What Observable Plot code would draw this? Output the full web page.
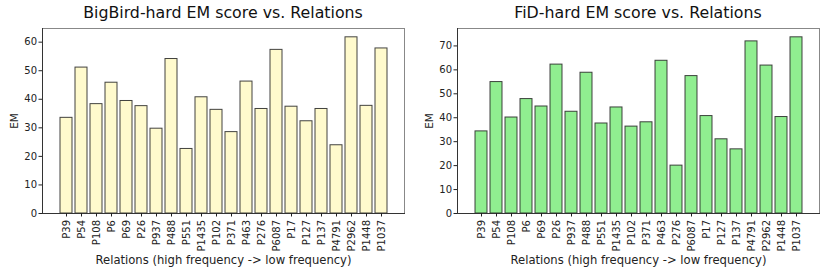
<!DOCTYPE html>
<html>
<head>
<meta charset="utf-8">
<script src="https://cdn.jsdelivr.net/npm/d3@7"></script>
<script src="https://cdn.jsdelivr.net/npm/@observablehq/plot@0.6"></script>
<style>
  html, body { margin: 0; padding: 0; background: #fff; }
  body { width: 830px; height: 278px; overflow: hidden; font-family: "DejaVu Sans", sans-serif; }
  #row { display: flex; flex-direction: row; }
  .panel { width: 415px; position: relative; }
  .title { height: 22px; font-size: 15.8px; color: #111; text-align: center; padding-left: 31px; box-sizing: border-box; line-height: 22px; padding-top: 2px; white-space: nowrap; }
  svg { display: block; }
</style>
</head>
<body>
<div id="row"></div>
<script>
const relations = ["P39","P54","P108","P6","P69","P26","P937","P488","P551","P1435","P102","P371","P463","P276","P6087","P17","P127","P137","P4791","P2962","P1448","P1037"];
const bigbirdEM = [33.5,51.1,38.3,45.8,39.4,37.6,29.7,54.1,22.6,40.7,36.3,28.5,46.2,36.6,57.3,37.4,32.3,36.6,23.9,61.7,37.7,57.8];
const fidEM = [34.3,54.9,40.1,47.8,44.7,62.2,42.5,58.8,37.6,44.3,36.3,38.1,63.8,20.0,57.4,40.7,31.0,26.8,71.9,61.8,40.3,73.6];
const titles = ["BigBird-hard EM score vs. Relations", "FiD-hard EM score vs. Relations"];
const fills = ["#fffacd", "#90ee90"];
const yTicks = [d3.range(0, 61, 10), d3.range(0, 71, 10)];
const xLabel = "Relations (high frequency -> low frequency)";
const yLabel = "EM";

const row = document.getElementById("row");
[bigbirdEM, fidEM].forEach((vals, k) => {
  const data = relations.map((r, i) => ({rel: r, em: vals[i]}));
  const ymax = d3.max(vals) * 1.05;
  const panel = document.createElement("div");
  panel.className = "panel";
  const t = document.createElement("div");
  t.className = "title";
  t.textContent = titles[k];
  panel.appendChild(t);
  const chart = Plot.plot({
    width: 415,
    height: 256,
    marginTop: 6,
    marginLeft: 42,
    marginRight: 11,
    marginBottom: 65,
    style: {fontFamily: "DejaVu Sans, sans-serif", fontSize: "10px", color: "#222", background: "#fff"},
    x: {type: "band", domain: relations, paddingInner: 0.2, paddingOuter: 1.09},
    y: {domain: [0, ymax]},
    marks: [
      Plot.barY(data, {x: "rel", y: "em", fill: fills[k], stroke: "#222", strokeWidth: 1, strokeOpacity: 0.85}),
      Plot.frame({stroke: "#888", strokeWidth: 1}),
      Plot.frame({anchor: "left", stroke: "#333", strokeWidth: 1}),
      Plot.frame({anchor: "bottom", stroke: "#333", strokeWidth: 1}),
      Plot.axisY({ticks: yTicks[k], tickSize: 3.5, tickPadding: 2, label: yLabel, labelAnchor: "center", labelArrow: "none", labelOffset: 32}),
      Plot.axisX({tickSize: 3.5, tickRotate: -90, tickPadding: 3, label: xLabel, labelAnchor: "center", labelArrow: "none", labelOffset: 50})
    ]
  });
  panel.appendChild(chart);
  row.appendChild(panel);
});
document.querySelectorAll("svg [aria-label='x-axis label']").forEach(el => el.setAttribute("font-size", "11.6px"));
document.querySelectorAll("svg [aria-label='y-axis label']").forEach(el => el.setAttribute("font-size", "10.5px"));
</script>
</body>
</html>
